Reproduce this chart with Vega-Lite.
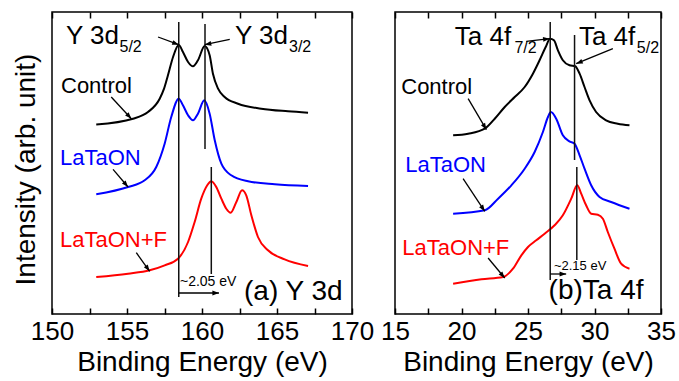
{
  "$schema": "https://vega.github.io/schema/vega-lite/v6.json",
  "background": "white",
  "padding": {"left": 11, "top": 10, "right": 5, "bottom": 2},
  "spacing": 43,
  "bounds": "flush",
  "config": {
    "view": {"stroke": "black", "strokeWidth": 1.5},
    "font": "Liberation Sans",
    "text": {"font": "Liberation Sans"}
  },
  "datasets": {
    "curvesA": [
      {"series": "Control", "x": 152.95, "y": 189.5},
      {"series": "Control", "x": 155.4, "y": 195.3},
      {"series": "Control", "x": 156.4, "y": 202},
      {"series": "Control", "x": 157.18, "y": 215.3},
      {"series": "Control", "x": 157.47, "y": 225.3},
      {"series": "Control", "x": 157.73, "y": 238.7},
      {"series": "Control", "x": 158.07, "y": 257},
      {"series": "Control", "x": 158.45, "y": 269},
      {"series": "Control", "x": 158.73, "y": 262},
      {"series": "Control", "x": 159.07, "y": 252},
      {"series": "Control", "x": 159.4, "y": 247.7},
      {"series": "Control", "x": 159.73, "y": 253.7},
      {"series": "Control", "x": 160.18, "y": 268},
      {"series": "Control", "x": 160.51, "y": 258.7},
      {"series": "Control", "x": 160.73, "y": 240.3},
      {"series": "Control", "x": 161.07, "y": 225.3},
      {"series": "Control", "x": 161.51, "y": 217},
      {"series": "Control", "x": 162.4, "y": 210.3},
      {"series": "Control", "x": 163.95, "y": 205.3},
      {"series": "Control", "x": 165.73, "y": 202.7},
      {"series": "Control", "x": 167.07, "y": 201.3},
      {"series": "LaTaON", "x": 152.95, "y": 119.7},
      {"series": "LaTaON", "x": 155.07, "y": 127},
      {"series": "LaTaON", "x": 156.18, "y": 133.7},
      {"series": "LaTaON", "x": 156.95, "y": 147},
      {"series": "LaTaON", "x": 157.51, "y": 170.3},
      {"series": "LaTaON", "x": 157.95, "y": 197},
      {"series": "LaTaON", "x": 158.45, "y": 215.3},
      {"series": "LaTaON", "x": 158.73, "y": 208.7},
      {"series": "LaTaON", "x": 159.07, "y": 198.7},
      {"series": "LaTaON", "x": 159.4, "y": 193.7},
      {"series": "LaTaON", "x": 159.73, "y": 200.3},
      {"series": "LaTaON", "x": 160.15, "y": 213.7},
      {"series": "LaTaON", "x": 160.51, "y": 200.3},
      {"series": "LaTaON", "x": 160.85, "y": 173.7},
      {"series": "LaTaON", "x": 161.29, "y": 150.3},
      {"series": "LaTaON", "x": 161.95, "y": 138.7},
      {"series": "LaTaON", "x": 163.07, "y": 132.7},
      {"series": "LaTaON", "x": 164.85, "y": 129.7},
      {"series": "LaTaON", "x": 167.07, "y": 128},
      {"series": "LaTaON+F", "x": 152.95, "y": 37},
      {"series": "LaTaON+F", "x": 155.07, "y": 40.3},
      {"series": "LaTaON+F", "x": 156.51, "y": 43.7},
      {"series": "LaTaON+F", "x": 157.51, "y": 48.7},
      {"series": "LaTaON+F", "x": 158.4, "y": 55.3},
      {"series": "LaTaON+F", "x": 159.07, "y": 72},
      {"series": "LaTaON+F", "x": 159.51, "y": 92},
      {"series": "LaTaON+F", "x": 159.95, "y": 115.3},
      {"series": "LaTaON+F", "x": 160.35, "y": 128.7},
      {"series": "LaTaON+F", "x": 160.62, "y": 132.7},
      {"series": "LaTaON+F", "x": 160.95, "y": 127},
      {"series": "LaTaON+F", "x": 161.29, "y": 115.3},
      {"series": "LaTaON+F", "x": 161.62, "y": 105.3},
      {"series": "LaTaON+F", "x": 161.91, "y": 101.3},
      {"series": "LaTaON+F", "x": 162.29, "y": 112},
      {"series": "LaTaON+F", "x": 162.67, "y": 123.7},
      {"series": "LaTaON+F", "x": 162.95, "y": 118.7},
      {"series": "LaTaON+F", "x": 163.29, "y": 98.7},
      {"series": "LaTaON+F", "x": 163.73, "y": 77},
      {"series": "LaTaON+F", "x": 164.4, "y": 63.7},
      {"series": "LaTaON+F", "x": 165.51, "y": 54.7},
      {"series": "LaTaON+F", "x": 167.07, "y": 48}
    ],
    "vlinesA": [
      {"x": 158.45, "y": 292, "y2": 17},
      {"x": 160.2, "y": 290, "y2": 165},
      {"x": 160.62, "y": 147, "y2": 40}
    ],
    "arrowsA": [
      {"x": 157.07, "y": 277, "x2": 158.45, "y2": 269.3},
      {"x": 161.85, "y": 274.7, "x2": 160.18, "y2": 269.3},
      {"x": 153.95, "y": 217, "x2": 155.29, "y2": 195.3},
      {"x": 154.07, "y": 144.7, "x2": 155.07, "y2": 127},
      {"x": 155.62, "y": 61.3, "x2": 156.51, "y2": 42.7},
      {"x": 158.45, "y": 21, "x2": 161.13, "y2": 21}
    ],
    "textA": [
      {"kind": "sample", "series": "Control", "label": "Control", "x": 150.6, "y": 221},
      {"kind": "sample", "series": "LaTaON", "label": "LaTaON", "x": 150.53, "y": 149},
      {"kind": "sample", "series": "LaTaON+F", "label": "LaTaON+F", "x": 150.53, "y": 67},
      {"kind": "peak", "label": "Y 3d", "x": 150.93, "y": 270},
      {"kind": "peak", "label": "Y 3d", "x": 162.2, "y": 270},
      {"kind": "sub", "label": "5/2", "x": 154.5, "y": 262},
      {"kind": "sub", "label": "3/2", "x": 165.8, "y": 262},
      {"kind": "shift", "label": "~2.05 eV", "x": 158.53, "y": 28},
      {"kind": "panel", "label": "(a) Y 3d", "x": 162.8, "y": 14}
    ],
    "curvesB": [
      {"series": "Control", "x": 19.37, "y": 178.7},
      {"series": "Control", "x": 20.5, "y": 180.3},
      {"series": "Control", "x": 21.75, "y": 185.3},
      {"series": "Control", "x": 22.5, "y": 195.3},
      {"series": "Control", "x": 23.25, "y": 207},
      {"series": "Control", "x": 24, "y": 217},
      {"series": "Control", "x": 24.75, "y": 227},
      {"series": "Control", "x": 25.37, "y": 240.3},
      {"series": "Control", "x": 25.87, "y": 253.7},
      {"series": "Control", "x": 26.33, "y": 267},
      {"series": "Control", "x": 26.66, "y": 275.3},
      {"series": "Control", "x": 26.95, "y": 273.7},
      {"series": "Control", "x": 27.25, "y": 263.7},
      {"series": "Control", "x": 27.62, "y": 253.7},
      {"series": "Control", "x": 28.12, "y": 248.7},
      {"series": "Control", "x": 28.55, "y": 247.7},
      {"series": "Control", "x": 28.88, "y": 240.3},
      {"series": "Control", "x": 29.25, "y": 227},
      {"series": "Control", "x": 29.63, "y": 213.7},
      {"series": "Control", "x": 30.12, "y": 202},
      {"series": "Control", "x": 30.87, "y": 193.7},
      {"series": "Control", "x": 31.75, "y": 190.3},
      {"series": "Control", "x": 32.63, "y": 188.7},
      {"series": "LaTaON", "x": 19.37, "y": 100.3},
      {"series": "LaTaON", "x": 21.75, "y": 103.7},
      {"series": "LaTaON", "x": 22.75, "y": 115.3},
      {"series": "LaTaON", "x": 23.75, "y": 128.7},
      {"series": "LaTaON", "x": 24.75, "y": 145.3},
      {"series": "LaTaON", "x": 25.5, "y": 162},
      {"series": "LaTaON", "x": 26.12, "y": 182},
      {"series": "LaTaON", "x": 26.5, "y": 197},
      {"series": "LaTaON", "x": 26.72, "y": 202},
      {"series": "LaTaON", "x": 27.12, "y": 195.3},
      {"series": "LaTaON", "x": 27.62, "y": 178.7},
      {"series": "LaTaON", "x": 28.12, "y": 172.7},
      {"series": "LaTaON", "x": 28.5, "y": 170.3},
      {"series": "LaTaON", "x": 28.88, "y": 158.7},
      {"series": "LaTaON", "x": 29.25, "y": 145.3},
      {"series": "LaTaON", "x": 29.75, "y": 128.7},
      {"series": "LaTaON", "x": 30.38, "y": 117},
      {"series": "LaTaON", "x": 31.25, "y": 112},
      {"series": "LaTaON", "x": 32.63, "y": 105.3},
      {"series": "LaTaON+F", "x": 19.37, "y": 30.3},
      {"series": "LaTaON+F", "x": 21.5, "y": 34.7},
      {"series": "LaTaON+F", "x": 23.12, "y": 37},
      {"series": "LaTaON+F", "x": 23.87, "y": 45.3},
      {"series": "LaTaON+F", "x": 24.5, "y": 58.7},
      {"series": "LaTaON+F", "x": 25, "y": 67},
      {"series": "LaTaON+F", "x": 25.62, "y": 73.7},
      {"series": "LaTaON+F", "x": 26.25, "y": 80.3},
      {"series": "LaTaON+F", "x": 27, "y": 88.7},
      {"series": "LaTaON+F", "x": 27.62, "y": 98.7},
      {"series": "LaTaON+F", "x": 28.25, "y": 115.3},
      {"series": "LaTaON+F", "x": 28.7, "y": 128.7},
      {"series": "LaTaON+F", "x": 29, "y": 120.3},
      {"series": "LaTaON+F", "x": 29.37, "y": 108.7},
      {"series": "LaTaON+F", "x": 29.75, "y": 100.3},
      {"series": "LaTaON+F", "x": 30.25, "y": 99.3},
      {"series": "LaTaON+F", "x": 30.63, "y": 95.3},
      {"series": "LaTaON+F", "x": 31, "y": 82},
      {"series": "LaTaON+F", "x": 31.5, "y": 65.3},
      {"series": "LaTaON+F", "x": 32, "y": 50.3},
      {"series": "LaTaON+F", "x": 32.63, "y": 45.3}
    ],
    "vlinesB": [
      {"x": 26.67, "y": 292, "y2": 34},
      {"x": 28.5, "y": 279, "y2": 154},
      {"x": 28.67, "y": 147, "y2": 54}
    ],
    "arrowsB": [
      {"x": 24.87, "y": 272.7, "x2": 26.63, "y2": 275.3},
      {"x": 31.38, "y": 265.3, "x2": 28.62, "y2": 250.3},
      {"x": 20.5, "y": 215.3, "x2": 21.87, "y2": 184.3},
      {"x": 20.12, "y": 135.3, "x2": 21.75, "y2": 102.7},
      {"x": 22, "y": 56, "x2": 23.25, "y2": 36},
      {"x": 26.67, "y": 40, "x2": 27.87, "y2": 40}
    ],
    "textB": [
      {"kind": "sample", "series": "Control", "label": "Control", "x": 15.47, "y": 220.3},
      {"kind": "sample", "series": "LaTaON", "label": "LaTaON", "x": 15.77, "y": 142},
      {"kind": "sample", "series": "LaTaON+F", "label": "LaTaON+F", "x": 15.55, "y": 58.7},
      {"kind": "peak", "label": "Ta 4f", "x": 19.5, "y": 269.3},
      {"kind": "peak", "label": "Ta 4f", "x": 28.83, "y": 269.3},
      {"kind": "sub", "label": "7/2", "x": 23.98, "y": 261},
      {"kind": "sub", "label": "5/2", "x": 33.18, "y": 261},
      {"kind": "shift", "label": "~2.15 eV", "x": 26.95, "y": 44},
      {"kind": "panel", "label": "(b)Ta 4f", "x": 26.55, "y": 15.3}
    ]
  },
  "hconcat": [
    {
      "name": "pa",
      "width": 300,
      "height": 302,
      "resolve": {"axis": {"x": "independent"}},
      "layer": [
        {
          "data": {"name": "curvesA"},
          "mark": {"type": "line", "interpolate": "monotone", "strokeWidth": 2},
          "encoding": {
            "x": {"field": "x", "type": "quantitative",
              "scale": {"domain": [150, 170], "nice": false, "zero": false},
              "axis": {"orient": "bottom", "values": [150, 155, 160, 165, 170],
                "tickSize": 0, "domain": false, "grid": false,
                "labelFont": "Liberation Sans", "labelFontSize": 26, "labelColor": "black", "labelPadding": 4,
                "labelFlush": false, "labelOverlap": false, "labelBound": false,
                "title": "Binding Energy (eV)", "titleFont": "Liberation Sans", "titleFontSize": 28,
                "titleFontWeight": "normal", "titleColor": "black", "titlePadding": 4}},
            "y": {"field": "y", "type": "quantitative",
              "scale": {"domain": [0, 302], "nice": false, "zero": false},
              "axis": {"title": "Intensity (arb. unit)", "labels": false, "ticks": false, "domain": false, "grid": false,
                "titleFont": "Liberation Sans", "titleFontSize": 28, "titleFontWeight": "normal", "titleColor": "black",
                "titlePadding": 12, "titleY": 157}},
            "color": {"field": "series", "type": "nominal",
              "scale": {"domain": ["Control", "LaTaON", "LaTaON+F"], "range": ["#000000", "#0000ff", "#ff0000"]},
              "legend": null},
            "detail": {"field": "series"}
          }
        },
        {
          "data": {"name": "vlinesA"},
          "mark": {"type": "rule", "color": "#111111", "strokeWidth": 1.5},
          "encoding": {
            "x": {"field": "x", "type": "quantitative",
              "axis": {"orient": "top", "values": [150, 152.5, 155, 157.5, 160, 162.5, 165, 167.5, 170],
                "labels": false, "title": null, "tickSize": -6, "tickColor": "black", "tickWidth": 1.5, "domain": false, "grid": false}},
            "y": {"field": "y", "type": "quantitative"},
            "y2": {"field": "y2"}
          }
        },
        {
          "data": {"name": "arrowsA"},
          "mark": {"type": "rule", "color": "black", "strokeWidth": 1.3},
          "encoding": {
            "x": {"field": "x", "type": "quantitative",
              "axis": {"orient": "bottom", "values": [150, 152.5, 155, 157.5, 160, 162.5, 165, 167.5, 170],
                "labels": false, "title": null, "tickSize": -6, "tickColor": "black", "tickWidth": 1.5, "domain": false, "grid": false}},
            "y": {"field": "y", "type": "quantitative"},
            "x2": {"field": "x2"},
            "y2": {"field": "y2"}
          }
        },
        {
          "data": {"name": "arrowsA"},
          "mark": {"type": "point", "filled": true, "color": "black", "opacity": 1, "size": 36,
            "shape": "M0,0L-2.2,-0.8L-2.2,0.8Z",
            "angle": {"expr": "atan2(scale('pa_y', datum.y2) - scale('pa_y', datum.y), scale('pa_x', datum.x2) - scale('pa_x', datum.x)) * 180 / PI"}},
          "encoding": {
            "x": {"field": "x2", "type": "quantitative", "axis": null},
            "y": {"field": "y2", "type": "quantitative"}
          }
        },
        {
          "data": {"name": "textA"},
          "transform": [{"filter": "datum.kind === 'sample'"}],
          "mark": {"type": "text", "align": "left", "baseline": "alphabetic", "fontSize": 22, "font": "Liberation Sans"},
          "encoding": {
            "x": {"field": "x", "type": "quantitative", "axis": null},
            "y": {"field": "y", "type": "quantitative"},
            "text": {"field": "label"},
            "color": {"field": "series", "type": "nominal", "legend": null}
          }
        },
        {
          "data": {"name": "textA"},
          "transform": [{"filter": "datum.kind === 'peak'"}],
          "mark": {"type": "text", "align": "left", "baseline": "alphabetic", "fontSize": 26, "font": "Liberation Sans", "color": "black"},
          "encoding": {
            "x": {"field": "x", "type": "quantitative", "axis": null},
            "y": {"field": "y", "type": "quantitative"},
            "text": {"field": "label"}
          }
        },
        {
          "data": {"name": "textA"},
          "transform": [{"filter": "datum.kind === 'sub'"}],
          "mark": {"type": "text", "align": "left", "baseline": "alphabetic", "fontSize": 16, "font": "Liberation Sans", "color": "black"},
          "encoding": {
            "x": {"field": "x", "type": "quantitative", "axis": null},
            "y": {"field": "y", "type": "quantitative"},
            "text": {"field": "label"}
          }
        },
        {
          "data": {"name": "textA"},
          "transform": [{"filter": "datum.kind === 'shift'"}],
          "mark": {"type": "text", "align": "left", "baseline": "alphabetic", "fontSize": 14, "font": "Liberation Sans", "color": "black"},
          "encoding": {
            "x": {"field": "x", "type": "quantitative", "axis": null},
            "y": {"field": "y", "type": "quantitative"},
            "text": {"field": "label"}
          }
        },
        {
          "data": {"name": "textA"},
          "transform": [{"filter": "datum.kind === 'panel'"}],
          "mark": {"type": "text", "align": "left", "baseline": "alphabetic", "fontSize": 28, "font": "Liberation Sans", "color": "black"},
          "encoding": {
            "x": {"field": "x", "type": "quantitative", "axis": null},
            "y": {"field": "y", "type": "quantitative"},
            "text": {"field": "label"}
          }
        }
      ]
    },
    {
      "name": "pb",
      "width": 266,
      "height": 302,
      "resolve": {"axis": {"x": "independent"}},
      "layer": [
        {
          "data": {"name": "curvesB"},
          "mark": {"type": "line", "interpolate": "monotone", "strokeWidth": 2},
          "encoding": {
            "x": {"field": "x", "type": "quantitative",
              "scale": {"domain": [15, 35], "nice": false, "zero": false},
              "axis": {"orient": "bottom", "values": [15, 20, 25, 30, 35],
                "tickSize": 0, "domain": false, "grid": false,
                "labelFont": "Liberation Sans", "labelFontSize": 26, "labelColor": "black", "labelPadding": 4,
                "labelFlush": false, "labelOverlap": false, "labelBound": false,
                "title": "Binding Energy (eV)", "titleFont": "Liberation Sans", "titleFontSize": 28,
                "titleFontWeight": "normal", "titleColor": "black", "titlePadding": 4}},
            "y": {"field": "y", "type": "quantitative",
              "scale": {"domain": [0, 302], "nice": false, "zero": false},
              "axis": null},
            "color": {"field": "series", "type": "nominal",
              "scale": {"domain": ["Control", "LaTaON", "LaTaON+F"], "range": ["#000000", "#0000ff", "#ff0000"]},
              "legend": null},
            "detail": {"field": "series"}
          }
        },
        {
          "data": {"name": "vlinesB"},
          "mark": {"type": "rule", "color": "#111111", "strokeWidth": 1.5},
          "encoding": {
            "x": {"field": "x", "type": "quantitative",
              "axis": {"orient": "top", "values": [15, 17.5, 20, 22.5, 25, 27.5, 30, 32.5, 35],
                "labels": false, "title": null, "tickSize": -6, "tickColor": "black", "tickWidth": 1.5, "domain": false, "grid": false}},
            "y": {"field": "y", "type": "quantitative"},
            "y2": {"field": "y2"}
          }
        },
        {
          "data": {"name": "arrowsB"},
          "mark": {"type": "rule", "color": "black", "strokeWidth": 1.3},
          "encoding": {
            "x": {"field": "x", "type": "quantitative",
              "axis": {"orient": "bottom", "values": [15, 17.5, 20, 22.5, 25, 27.5, 30, 32.5, 35],
                "labels": false, "title": null, "tickSize": -6, "tickColor": "black", "tickWidth": 1.5, "domain": false, "grid": false}},
            "y": {"field": "y", "type": "quantitative"},
            "x2": {"field": "x2"},
            "y2": {"field": "y2"}
          }
        },
        {
          "data": {"name": "arrowsB"},
          "mark": {"type": "point", "filled": true, "color": "black", "opacity": 1, "size": 36,
            "shape": "M0,0L-2.2,-0.8L-2.2,0.8Z",
            "angle": {"expr": "atan2(scale('pb_y', datum.y2) - scale('pb_y', datum.y), scale('pb_x', datum.x2) - scale('pb_x', datum.x)) * 180 / PI"}},
          "encoding": {
            "x": {"field": "x2", "type": "quantitative", "axis": null},
            "y": {"field": "y2", "type": "quantitative"}
          }
        },
        {
          "data": {"name": "textB"},
          "transform": [{"filter": "datum.kind === 'sample'"}],
          "mark": {"type": "text", "align": "left", "baseline": "alphabetic", "fontSize": 22, "font": "Liberation Sans"},
          "encoding": {
            "x": {"field": "x", "type": "quantitative", "axis": null},
            "y": {"field": "y", "type": "quantitative"},
            "text": {"field": "label"},
            "color": {"field": "series", "type": "nominal", "legend": null}
          }
        },
        {
          "data": {"name": "textB"},
          "transform": [{"filter": "datum.kind === 'peak'"}],
          "mark": {"type": "text", "align": "left", "baseline": "alphabetic", "fontSize": 26, "font": "Liberation Sans", "color": "black"},
          "encoding": {
            "x": {"field": "x", "type": "quantitative", "axis": null},
            "y": {"field": "y", "type": "quantitative"},
            "text": {"field": "label"}
          }
        },
        {
          "data": {"name": "textB"},
          "transform": [{"filter": "datum.kind === 'sub'"}],
          "mark": {"type": "text", "align": "left", "baseline": "alphabetic", "fontSize": 16, "font": "Liberation Sans", "color": "black"},
          "encoding": {
            "x": {"field": "x", "type": "quantitative", "axis": null},
            "y": {"field": "y", "type": "quantitative"},
            "text": {"field": "label"}
          }
        },
        {
          "data": {"name": "textB"},
          "transform": [{"filter": "datum.kind === 'shift'"}],
          "mark": {"type": "text", "align": "left", "baseline": "alphabetic", "fontSize": 13, "font": "Liberation Sans", "color": "black"},
          "encoding": {
            "x": {"field": "x", "type": "quantitative", "axis": null},
            "y": {"field": "y", "type": "quantitative"},
            "text": {"field": "label"}
          }
        },
        {
          "data": {"name": "textB"},
          "transform": [{"filter": "datum.kind === 'panel'"}],
          "mark": {"type": "text", "align": "left", "baseline": "alphabetic", "fontSize": 28, "font": "Liberation Sans", "color": "black"},
          "encoding": {
            "x": {"field": "x", "type": "quantitative", "axis": null},
            "y": {"field": "y", "type": "quantitative"},
            "text": {"field": "label"}
          }
        }
      ]
    }
  ]
}
